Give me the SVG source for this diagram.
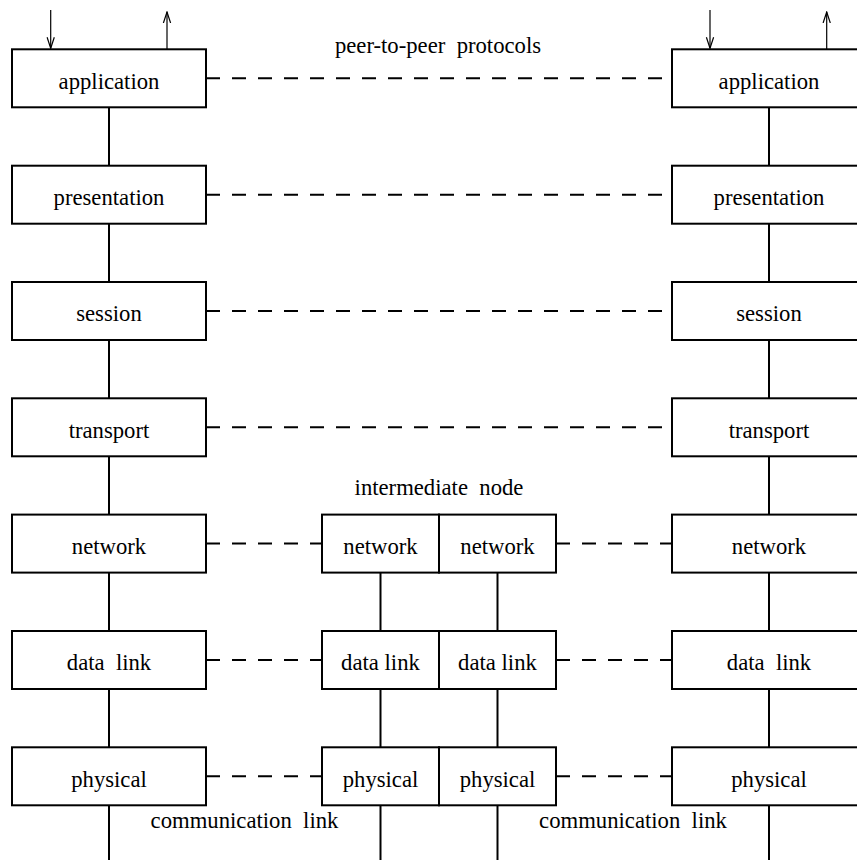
<svg xmlns="http://www.w3.org/2000/svg" width="857" height="860" viewBox="0 0 857 860">
<style>
  .box { fill: #ffffff; stroke: #000000; stroke-width: 2; }
  .lbl { font-family: "Liberation Serif", "DejaVu Serif", serif; font-size: 22.7px; fill: #000000; text-anchor: middle; white-space: pre; }
  .conn { stroke: #000000; stroke-width: 2; fill: none; }
  .dash { stroke: #000000; stroke-width: 2; fill: none; stroke-dasharray: 14 12; }
  .arr { stroke: #000000; stroke-width: 1.2; fill: none; }
</style>
<defs>
  <marker id="open" viewBox="-11 -5 12 10" markerWidth="12" markerHeight="10" refX="0" refY="0" orient="auto" markerUnits="userSpaceOnUse">
    <path d="M-11,-3.6 L0,0 L-11,3.6" fill="none" stroke="#000000" stroke-width="1.2"/>
  </marker>
</defs>
<rect width="857" height="860" fill="#ffffff"/>

<g id="connectors">
  <line class="conn" x1="109" y1="107.3" x2="109" y2="165.7"/>
  <line class="conn" x1="109" y1="223.7" x2="109" y2="282"/>
  <line class="conn" x1="109" y1="340" x2="109" y2="398.3"/>
  <line class="conn" x1="109" y1="456.3" x2="109" y2="514.6"/>
  <line class="conn" x1="109" y1="572.6" x2="109" y2="631"/>
  <line class="conn" x1="109" y1="689" x2="109" y2="747.3"/>
  <line class="conn" x1="109" y1="805.3" x2="109" y2="860"/>
  <line class="conn" x1="769" y1="107.3" x2="769" y2="165.7"/>
  <line class="conn" x1="769" y1="223.7" x2="769" y2="282"/>
  <line class="conn" x1="769" y1="340" x2="769" y2="398.3"/>
  <line class="conn" x1="769" y1="456.3" x2="769" y2="514.6"/>
  <line class="conn" x1="769" y1="572.6" x2="769" y2="631"/>
  <line class="conn" x1="769" y1="689" x2="769" y2="747.3"/>
  <line class="conn" x1="769" y1="805.3" x2="769" y2="860"/>
  <line class="conn" x1="380.5" y1="572.6" x2="380.5" y2="631"/>
  <line class="conn" x1="380.5" y1="689" x2="380.5" y2="747.3"/>
  <line class="conn" x1="380.5" y1="805.3" x2="380.5" y2="860"/>
  <line class="conn" x1="497.5" y1="572.6" x2="497.5" y2="631"/>
  <line class="conn" x1="497.5" y1="689" x2="497.5" y2="747.3"/>
  <line class="conn" x1="497.5" y1="805.3" x2="497.5" y2="860"/>
  <line class="dash" x1="206" y1="78.3" x2="672" y2="78.3"/>
  <line class="dash" x1="206" y1="194.7" x2="672" y2="194.7"/>
  <line class="dash" x1="206" y1="311" x2="672" y2="311"/>
  <line class="dash" x1="206" y1="427.3" x2="672" y2="427.3"/>
  <line class="dash" x1="206" y1="543.6" x2="322" y2="543.6"/>
  <line class="dash" x1="556" y1="543.6" x2="672" y2="543.6"/>
  <line class="dash" x1="206" y1="660" x2="322" y2="660"/>
  <line class="dash" x1="556" y1="660" x2="672" y2="660"/>
  <line class="dash" x1="206" y1="776.3" x2="322" y2="776.3"/>
  <line class="dash" x1="556" y1="776.3" x2="672" y2="776.3"/>
  <line class="arr" x1="50.7" y1="10" x2="50.7" y2="48.3" marker-end="url(#open)"/>
  <line class="arr" x1="167" y1="49.3" x2="167" y2="12" marker-end="url(#open)"/>
  <line class="arr" x1="710" y1="10" x2="710" y2="48.3" marker-end="url(#open)"/>
  <line class="arr" x1="826.7" y1="49.3" x2="826.7" y2="12" marker-end="url(#open)"/>
</g>

<g id="left-application"><rect class="box" x="12" y="49.3" width="194" height="58"/><text class="lbl" x="109" y="88.7">application</text></g>
<g id="left-presentation"><rect class="box" x="12" y="165.7" width="194" height="58"/><text class="lbl" x="109" y="205">presentation</text></g>
<g id="left-session"><rect class="box" x="12" y="282" width="194" height="58"/><text class="lbl" x="109" y="321.3">session</text></g>
<g id="left-transport"><rect class="box" x="12" y="398.3" width="194" height="58"/><text class="lbl" x="109" y="437.7">transport</text></g>
<g id="left-network"><rect class="box" x="12" y="514.6" width="194" height="58"/><text class="lbl" x="109" y="554">network</text></g>
<g id="left-datalink"><rect class="box" x="12" y="631" width="194" height="58"/><text class="lbl" x="109" y="670.3" xml:space="preserve">data  link</text></g>
<g id="left-physical"><rect class="box" x="12" y="747.3" width="194" height="58"/><text class="lbl" x="109" y="786.7">physical</text></g>

<g id="right-application"><rect class="box" x="672" y="49.3" width="194" height="58"/><text class="lbl" x="769" y="88.7">application</text></g>
<g id="right-presentation"><rect class="box" x="672" y="165.7" width="194" height="58"/><text class="lbl" x="769" y="205">presentation</text></g>
<g id="right-session"><rect class="box" x="672" y="282" width="194" height="58"/><text class="lbl" x="769" y="321.3">session</text></g>
<g id="right-transport"><rect class="box" x="672" y="398.3" width="194" height="58"/><text class="lbl" x="769" y="437.7">transport</text></g>
<g id="right-network"><rect class="box" x="672" y="514.6" width="194" height="58"/><text class="lbl" x="769" y="554">network</text></g>
<g id="right-datalink"><rect class="box" x="672" y="631" width="194" height="58"/><text class="lbl" x="769" y="670.3" xml:space="preserve">data  link</text></g>
<g id="right-physical"><rect class="box" x="672" y="747.3" width="194" height="58"/><text class="lbl" x="769" y="786.7">physical</text></g>

<g id="mid-network-a"><rect class="box" x="322" y="514.6" width="117" height="58"/><text class="lbl" x="380.5" y="554">network</text></g>
<g id="mid-network-b"><rect class="box" x="439" y="514.6" width="117" height="58"/><text class="lbl" x="497.5" y="554">network</text></g>
<g id="mid-datalink-a"><rect class="box" x="322" y="631" width="117" height="58"/><text class="lbl" x="380.5" y="670.3">data link</text></g>
<g id="mid-datalink-b"><rect class="box" x="439" y="631" width="117" height="58"/><text class="lbl" x="497.5" y="670.3">data link</text></g>
<g id="mid-physical-a"><rect class="box" x="322" y="747.3" width="117" height="58"/><text class="lbl" x="380.5" y="786.7">physical</text></g>
<g id="mid-physical-b"><rect class="box" x="439" y="747.3" width="117" height="58"/><text class="lbl" x="497.5" y="786.7">physical</text></g>

<g id="labels">
  <text class="lbl" x="438" y="52.5" xml:space="preserve">peer-to-peer  protocols</text>
  <text class="lbl" x="439" y="494.7" xml:space="preserve">intermediate  node</text>
  <text class="lbl" x="244.5" y="828" xml:space="preserve">communication  link</text>
  <text class="lbl" x="633" y="828" xml:space="preserve">communication  link</text>
</g>
</svg>
